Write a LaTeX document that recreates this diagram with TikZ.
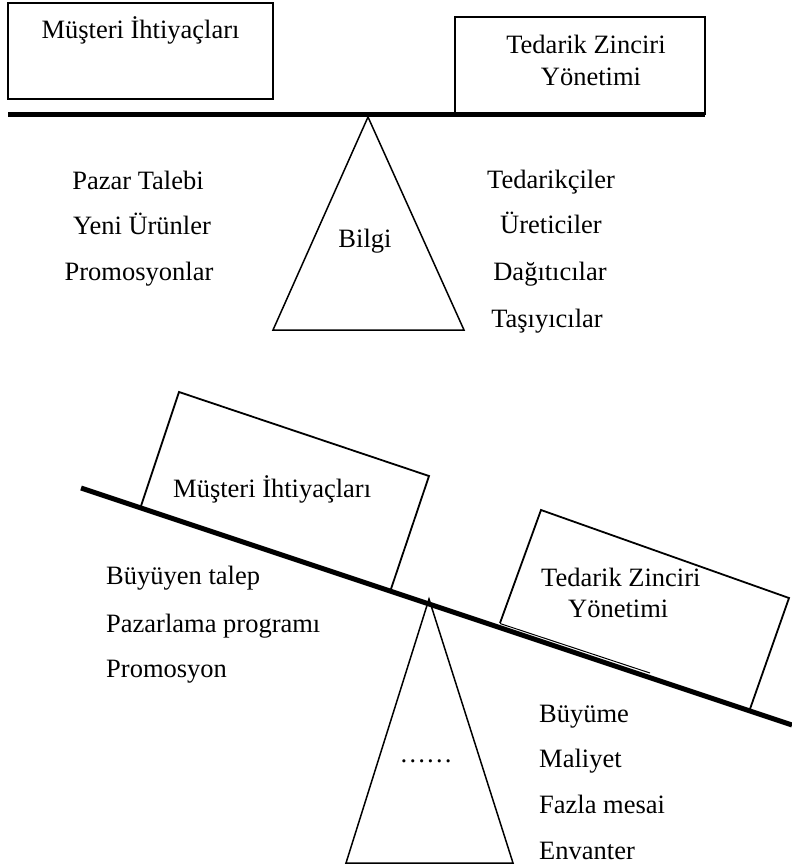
\documentclass[tikz,border=0pt]{standalone}
\usepackage{fontspec}
\setmainfont{Liberation Serif}
\begin{document}
\begin{tikzpicture}[x=1pt,y=-1pt,
  lbl/.style={inner sep=0pt,font=\fontsize{26.5}{30}\selectfont},
  frame/.style={draw=black,line width=1.8pt,line join=miter},
  beam/.style={draw=black,line width=5pt},
  fulcrum/.style={draw=black,line width=1.5pt,line join=miter}]
\useasboundingbox (0,0) rectangle (792,867);

% ---------- balanced scale ----------
\draw[frame] (8,3) rectangle (273,99);
\draw[frame] (455,17) rectangle (705,114);
\coordinate (b1l) at (8,114.5);
\coordinate (b1r) at (705,114.5);
\draw[beam] (b1l) -- (b1r);
\coordinate (t1a) at (368,117);
\coordinate (t1l) at (273,330);
\coordinate (t1r) at (464,330);
\draw[fulcrum] (t1a) -- (t1l) -- (t1r) -- cycle;

\node[lbl,anchor=base] (mi1) at (140.5,39) {Müşteri İhtiyaçları};
\node[lbl,anchor=base] (tz1) at (586,53) {Tedarik Zinciri};
\node[lbl,anchor=base] (yo1) at (591,85) {Yönetimi};
\node[lbl,anchor=base] (bilgi) at (365,247) {Bilgi};

\node[lbl,anchor=base] (pt) at (138,189) {Pazar Talebi};
\node[lbl,anchor=base] (yu) at (142,234) {Yeni Ürünler};
\node[lbl,anchor=base] (pr) at (139,280) {Promosyonlar};

\node[lbl,anchor=base] (td) at (551,188) {Tedarikçiler};
\node[lbl,anchor=base] (ur) at (551,233) {Üreticiler};
\node[lbl,anchor=base] (dg) at (550,280) {Dağıtıcılar};
\node[lbl,anchor=base] (ts) at (547,327) {Taşıyıcılar};

% ---------- tipped scale ----------
\coordinate (b2l) at (81,488);
\coordinate (b2r) at (792,725);
\draw[beam] (b2l) -- (b2r);
\draw[frame] (141,506) -- (179,392) -- (429,476) -- (391,589);
\draw[frame] (500,623) -- (541,510) -- (789,598) -- (750,709);
% bottom edge of the right box, just above the beam
\draw[line width=1pt] (500,623.5) -- (650,673);
\coordinate (t2a) at (429,599);
\coordinate (t2l) at (346,863);
\coordinate (t2r) at (513,863);
\draw[fulcrum] (t2a) -- (t2l) -- (t2r) -- cycle;

\node[lbl,anchor=base west] (mi2) at (173,497) {Müşteri İhtiyaçları};
\node[lbl,anchor=base west] (tz2) at (541,586) {Tedarik Zinciri};
\node[lbl,anchor=base west] (yo2) at (568,617) {Yönetimi};
\node[lbl,anchor=base] (dots) at (426,762) {……};

\node[lbl,anchor=base west] (bt) at (106,584) {Büyüyen talep};
\node[lbl,anchor=base west] (pp) at (106,632) {Pazarlama programı};
\node[lbl,anchor=base west] (ps) at (106,677) {Promosyon};

\node[lbl,anchor=base west] (by) at (539,722) {Büyüme};
\node[lbl,anchor=base west] (ml) at (539,767) {Maliyet};
\node[lbl,anchor=base west] (fm) at (539,813) {Fazla mesai};
\node[lbl,anchor=base west] (en) at (539,859) {Envanter};
\end{tikzpicture}
\end{document}
